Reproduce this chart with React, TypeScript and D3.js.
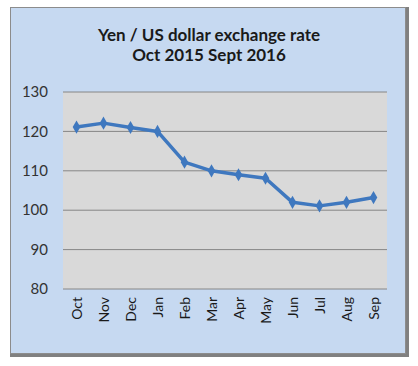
import React from 'react';
import * as d3 from 'd3';

const months = ['Oct', 'Nov', 'Dec', 'Jan', 'Feb', 'Mar', 'Apr', 'May', 'Jun', 'Jul', 'Aug', 'Sep'];
const yenPerDollar = [121.1, 122.1, 121, 120, 112.2, 110, 109, 108.1, 102, 101.1, 102, 103.2];
const yTicks = [80, 90, 100, 110, 120, 130];
const titleLines = ['Yen / US dollar exchange rate', 'Oct 2015 Sept 2016'];

const W = 418;
const H = 366;
const font = 'Lato, "Open Sans", sans-serif';

const App: React.FC = () => {
    const plot = { left: 63, right: 387, top: 92, bottom: 289 };

    const x = d3.scaleBand<string>()
        .domain(months)
        .range([plot.left, plot.right]);

    const y = d3.scaleLinear()
        .domain([80, 130])
        .range([plot.bottom, plot.top]);

    const line = d3.line<number>()
        .x((_, i) => (x(months[i]) as number) + x.bandwidth() / 2)
        .y(d => y(d));

    const diamond = d3.symbol().type(d3.symbolDiamond).size(50)();

    return (
        <svg width={W} height={H} style={{ position: 'absolute', left: 0, top: 0, background: '#fff' }}>
            {/* frame with shadow */}
            <rect x={10} y={7} width={399} height={350} fill="#808080" />
            <rect x={10.5} y={7.5} width={395} height={346} fill="#c6d9f1" stroke="#8c8c8c" strokeWidth={1} />

            {titleLines.map((t, i) => (
                <text key={t} x={209} y={41 + i * 20} textAnchor="middle"
                    fontFamily={font} fontWeight="bold" fontSize={17} fill="#1a1a1a">
                    {t}
                </text>
            ))}

            <rect x={plot.left} y={plot.top} width={plot.right - plot.left} height={plot.bottom - plot.top} fill="#d9d9d9" />

            {yTicks.map(t => (
                <g key={t}>
                    <line x1={plot.left} x2={plot.right} y1={y(t)} y2={y(t)} stroke="#868686" strokeWidth={1} />
                    <text x={48} y={y(t)} dy="0.35em" textAnchor="end" fontFamily={font} fontSize={15} fill="#333">
                        {t}
                    </text>
                </g>
            ))}

            {months.map(m => {
                const cx = (x(m) as number) + x.bandwidth() / 2;
                return (
                    <text key={m} transform={`translate(${cx + 5},297) rotate(-90)`} textAnchor="end"
                        fontFamily={font} fontSize={14} fill="#1a1a1a">
                        {m}
                    </text>
                );
            })}

            <path d={line(yenPerDollar) || ''} fill="none" stroke="#3f78bf" strokeWidth={3.5} strokeLinejoin="round" />
            {yenPerDollar.map((v, i) => (
                <path key={i} d={diamond || ''} fill="#3f78bf"
                    transform={`translate(${(x(months[i]) as number) + x.bandwidth() / 2},${y(v)})`} />
            ))}
        </svg>
    );
};

export default App;
